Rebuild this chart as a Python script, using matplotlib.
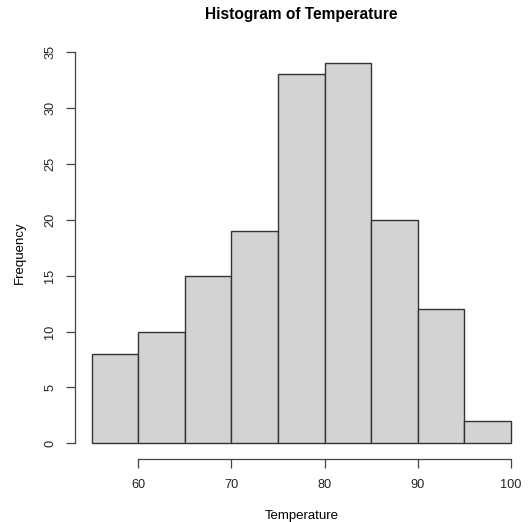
import numpy as np
import matplotlib.pyplot as plt

plt.rcParams['font.family'] = ['Liberation Sans', 'DejaVu Sans']

# histogram bins (Temperature) and their counts
breaks = [55, 60, 65, 70, 75, 80, 85, 90, 95, 100]
counts = [8, 10, 15, 19, 33, 34, 20, 12, 2]

W, H = 530, 522
fig = plt.figure(figsize=(W / 100, H / 100), dpi=100)
ax = fig.add_axes([75 / W, (H - 458.5) / H, (527.5 - 75) / W, (458.5 - 48) / H])

left = np.array(breaks[:-1])
ax.bar(left, counts, width=np.diff(breaks), align='edge',
       color='#d3d3d3', edgecolor='#333333', linewidth=1.0)

ax.set_xlim(53.2, 101.8)
ax.set_ylim(-1.36, 35.36)

for s in ['top', 'right']:
    ax.spines[s].set_visible(False)
ax.spines['left'].set_bounds(0, 35)
ax.spines['bottom'].set_bounds(60, 100)
for s in ['left', 'bottom']:
    ax.spines[s].set_color('#444444')
    ax.spines[s].set_linewidth(0.9)

ax.set_xticks([60, 70, 80, 90, 100])
ax.set_yticks(range(0, 36, 5))
ax.tick_params(axis='both', length=6.5, width=0.9, color='#444444',
               labelsize=9.2, labelcolor='#222222')
ax.tick_params(axis='x', pad=8)
ax.tick_params(axis='y', pad=7)
for lab in ax.get_yticklabels():
    lab.set_rotation(90)
    lab.set_va('center')

fig.text(301 / W, 1 - 15 / H, 'Histogram of Temperature', ha='center', va='center',
         fontsize=11.2, fontweight='bold')
fig.text(302 / W, 1 - 516.5 / H, 'Temperature', ha='center', va='center', fontsize=9.5)
fig.text(20 / W, 1 - 253 / H, 'Frequency', ha='center', va='center', fontsize=9.5, rotation=90)

fig.savefig('out.png', dpi=100)
